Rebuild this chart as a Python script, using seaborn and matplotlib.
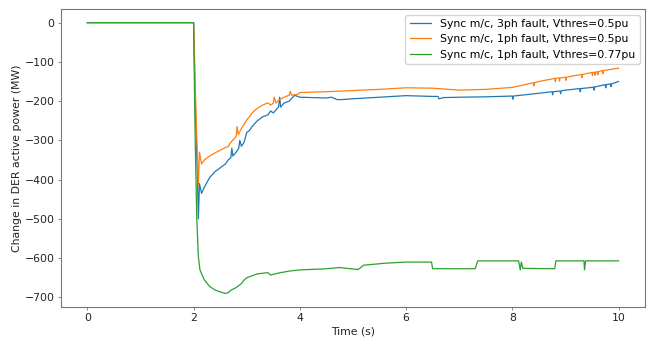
import matplotlib
matplotlib.use('Agg')
import matplotlib.pyplot as plt
import pandas as pd
import seaborn as sns

# Sync m/c, 3ph fault, Vthres=0.5pu
t_3ph = [0, 2.0, 2.03, 2.07, 2.09, 2.11, 2.15, 2.2, 2.3, 2.4, 2.5, 2.6, 2.65, 2.7, 2.72, 2.74,
         2.8, 2.85, 2.87, 2.9, 2.95, 3.0, 3.05, 3.1, 3.2, 3.3, 3.4, 3.45, 3.5, 3.6, 3.62, 3.64,
         3.7, 3.8, 3.9, 4.0, 4.5, 4.6, 4.7, 4.8, 5.0, 5.5, 6.0, 6.5, 6.6, 6.62, 6.7, 7.0, 7.5,
         8.0, 8.01, 8.02, 8.5, 8.75, 8.76, 8.77, 8.9, 8.91, 8.92, 9.0, 9.27, 9.28, 9.29, 9.5,
         9.53, 9.54, 9.55, 9.75, 9.76, 9.77, 9.85, 9.86, 9.87, 10.0]
p_3ph = [0, 0, -200, -380, -500, -410, -435, -420, -395, -380, -370, -360, -350, -345, -320, -340,
         -330, -320, -300, -315, -305, -280, -275, -265, -250, -240, -235, -225, -230, -215, -190, -215,
         -205, -200, -185, -190, -192, -190, -196, -196, -194, -190, -186, -188, -188, -194, -191, -190, -189,
         -187, -195, -187, -180, -176, -184, -176, -174, -181, -174, -172, -168, -176, -168, -165,
         -164, -172, -164, -158, -166, -158, -156, -163, -156, -150]

# Sync m/c, 1ph fault, Vthres=0.5pu
t_1ph = [0, 2.0, 2.05, 2.09, 2.11, 2.15, 2.2, 2.3, 2.4, 2.5, 2.6, 2.65, 2.7, 2.8, 2.82, 2.84,
         2.9, 3.0, 3.05, 3.1, 3.2, 3.3, 3.4, 3.45, 3.5, 3.52, 3.55, 3.6, 3.7, 3.8, 3.82, 3.85,
         3.95, 4.0, 4.5, 5.0, 5.5, 6.0, 6.5, 7.0, 7.5, 8.0, 8.4, 8.41, 8.42, 8.5, 8.8, 8.81, 8.82,
         8.88, 8.89, 8.9, 9.0, 9.01, 9.02, 9.3, 9.31, 9.32, 9.5, 9.51, 9.52, 9.55, 9.56, 9.57,
         9.6, 9.61, 9.62, 9.7, 9.71, 9.72, 10.0]
p_1ph = [0, 0, -250, -415, -330, -360, -350, -340, -332, -325, -318, -316, -305, -290, -265, -285,
         -270, -248, -240, -230, -218, -210, -204, -210, -205, -190, -205, -198, -190, -185, -175, -185,
         -183, -178, -176, -173, -170, -166, -167, -172, -170, -165, -153, -161, -153, -150, -142, -150, -142,
         -141, -149, -141, -139, -147, -139, -132, -140, -132, -127, -135, -127, -126, -134, -126,
         -125, -133, -125, -122, -130, -122, -116]

# Sync m/c, 1ph fault, Vthres=0.77pu
t_077 = [0, 2.0, 2.03, 2.06, 2.09, 2.12, 2.2, 2.3, 2.4, 2.5, 2.6, 2.65, 2.7, 2.8, 2.9, 2.95,
         3.0, 3.1, 3.2, 3.4, 3.45, 3.6, 3.8, 4.0, 4.5, 4.75, 5.1, 5.2, 5.6, 6.0, 6.48, 6.5,
         7.3, 7.35, 8.12, 8.15, 8.17, 8.2, 8.8, 8.82, 9.35, 9.36, 9.38, 10.0]
p_077 = [0, 0, -300, -500, -597, -630, -655, -672, -681, -686, -690, -688, -682, -675, -665, -656,
         -650, -645, -640, -637, -643, -638, -633, -630, -627, -624, -629, -618, -613, -610, -610, -627,
         -627, -607, -607, -630, -610, -626, -627, -607, -607, -630, -607, -607]

labels = ['Sync m/c, 3ph fault, Vthres=0.5pu',
          'Sync m/c, 1ph fault, Vthres=0.5pu',
          'Sync m/c, 1ph fault, Vthres=0.77pu']
colors = ['#1f77b4', '#ff7f0e', '#2ca02c']

df = pd.concat([
    pd.DataFrame({'t': t_3ph, 'p': p_3ph, 'case': labels[0]}),
    pd.DataFrame({'t': t_1ph, 'p': p_1ph, 'case': labels[1]}),
    pd.DataFrame({'t': t_077, 'p': p_077, 'case': labels[2]}),
])

plt.rcParams['font.size'] = 7.8
plt.rcParams['xtick.major.size'] = 2.5
plt.rcParams['ytick.major.size'] = 2.5
plt.rcParams['xtick.major.width'] = 0.6
plt.rcParams['ytick.major.width'] = 0.6
plt.rcParams['axes.edgecolor'] = '#777777'
plt.rcParams['xtick.color'] = '#777777'
plt.rcParams['ytick.color'] = '#777777'
plt.rcParams['xtick.labelcolor'] = '#222222'
plt.rcParams['ytick.labelcolor'] = '#222222'

fig, ax = plt.subplots(figsize=(6.47, 3.37), dpi=100)
sns.lineplot(data=df, x='t', y='p', hue='case', palette=colors, sort=False,
             estimator=None, linewidth=0.9, ax=ax)
ax.set_xlabel('Time (s)', labelpad=2, color='#222222')
ax.set_ylabel('Change in DER active power (MW)', labelpad=1.5, color='#222222')
ax.set_xticks([0, 2, 4, 6, 8, 10])
ax.set_yticks([0, -100, -200, -300, -400, -500, -600, -700])
ax.tick_params(pad=2)
ax.legend(loc='upper right', title=None)
fig.subplots_adjust(left=0.094, right=0.997, top=0.973, bottom=0.089)
fig.savefig('out.png')
